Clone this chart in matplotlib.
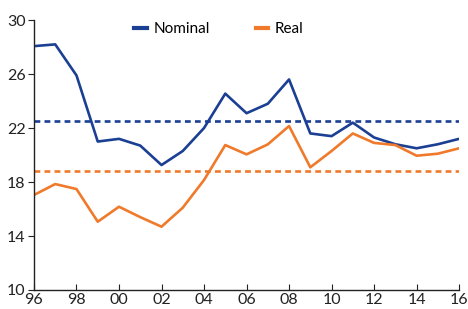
import matplotlib
matplotlib.use("Agg")
import matplotlib.pyplot as plt

# data
years = list(range(1996, 2017))
nominal = [28.07, 28.2, 25.9, 21.0, 21.2, 20.7, 19.26, 20.3, 22.0, 24.55, 23.1,
           23.8, 25.6, 21.6, 21.4, 22.4, 21.3, 20.8, 20.5, 20.8, 21.2]
real = [17.04, 17.85, 17.48, 15.06, 16.17, 15.4, 14.69, 16.1, 18.15, 20.74, 20.05,
        20.79, 22.15, 19.09, 20.3, 21.6, 20.9, 20.74, 19.95, 20.1, 20.5]
nominal_avg = 22.55
real_avg = 18.81

xticks = list(range(1996, 2017, 2))
xlabels = ["%02d" % (y % 100) for y in xticks]
yticks = [10, 14, 18, 22, 26, 30]

blue = "#1b3f93"
orange = "#f07a2b"

plt.rcParams['font.family'] = ['Lato', 'DejaVu Sans']

fig = plt.figure(figsize=(4.68, 3.09), dpi=100)
ax = fig.add_axes([0.0726, 0.0615, 0.9084, 0.8735])

ax.plot(years, nominal, color=blue, lw=1.9, label="Nominal")
ax.plot(years, real, color=orange, lw=1.9, label="Real")
ax.axhline(nominal_avg, color=blue, lw=1.9, ls=(0, (2.2, 1.6)))
ax.axhline(real_avg, color=orange, lw=1.9, ls=(0, (2.2, 1.6)))

ax.set_xlim(1996, 2016)
ax.set_ylim(10, 30)
ax.set_xticks(xticks)
ax.set_xticklabels(xlabels)
ax.set_yticks(yticks)

for s in ["top", "right"]:
    ax.spines[s].set_visible(False)
for s in ["left", "bottom"]:
    ax.spines[s].set_linewidth(1.0)
    ax.spines[s].set_color("#222222")

ax.tick_params(axis="x", direction="in", length=4, labelsize=11.5, colors="#222222", pad=2)
ax.tick_params(axis="y", direction="out", length=4, labelsize=11.5, colors="#222222", pad=2)

leg = ax.legend(loc="center", bbox_to_anchor=(0.435, 0.967), ncol=2, frameon=False,
                fontsize=11, handlelength=0.8, columnspacing=3.0, handletextpad=0.45,
                borderpad=0, borderaxespad=0)
for h in leg.get_lines():
    h.set_linewidth(3.0)

fig.savefig("out.png", dpi=100)
